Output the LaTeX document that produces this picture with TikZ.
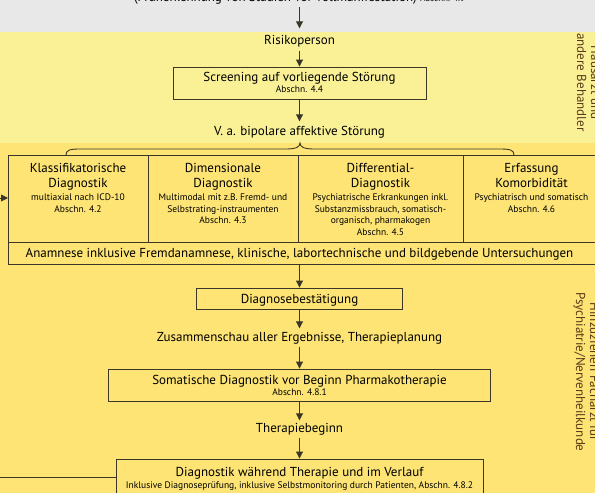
\documentclass[tikz,border=0pt]{standalone}
\usepackage{fontspec}
\setmainfont{PT Sans}
\usetikzlibrary{arrows.meta}
\definecolor{bggray}{HTML}{E8E8E8}
\definecolor{bglight}{HTML}{FAF196}
\definecolor{bgdark}{HTML}{FDE474}
\definecolor{ln}{HTML}{3A3628}
\definecolor{brn}{HTML}{5C3A1A}
\begin{document}
\begin{tikzpicture}[x=1pt,y=-1pt,
  box/.style={draw=ln,line width=0.9pt,inner sep=0pt},
  main/.style={font=\fontsize{13}{15.5}\selectfont,inner sep=0pt,text height=9.3pt,text depth=2.8pt,anchor=base},
  coltitle/.style={font=\fontsize{13}{15.5}\selectfont,inner sep=0pt,align=center,anchor=base},
  colsub/.style={font=\fontsize{9.5}{11.8}\selectfont,inner sep=0pt,align=center,anchor=base},
  small/.style={font=\fontsize{9.5}{11}\selectfont,inner sep=0pt,anchor=base},
  rot/.style={font=\fontsize{13}{14}\selectfont,inner sep=0pt,align=center,rotate=-90,text=brn},
  arr/.style={draw=ln,line width=0.9pt,-{Triangle[length=7pt,width=7pt]}},
  brace/.style={draw=ln,line width=0.9pt}
]
\useasboundingbox (0,0) rectangle (595,493);
% background bands
\fill[bggray] (0,-20) rectangle (600,32);
\fill[bglight] (0,32) rectangle (600,143);
\fill[bgdark] (0,143) rectangle (600,500);

% brace
\draw[brace] (66,155) .. controls (66,150) and (70,149) .. (80,149)
  -- (286,149) .. controls (296,149) and (300,147) .. (300,143)
  .. controls (300,147) and (304,149) .. (314,149)
  -- (500,149) .. controls (510,149) and (514,150) .. (514,155);

% main flow
\node[main] (top) at (299.5,1.5) {(Früherkennung von Stadien vor Vollmanifestation) {\fontsize{9}{10}\selectfont Abschn. 4.9}};
\node[main] (risk) at (299.5,44.5) {Risikoperson};
\node[box,minimum width=253pt,minimum height=32pt] (scr) at (299.5,83) {};
\node[main] (scrt) at (299.5,81.5) {Screening auf vorliegende Störung};
\node[small] (scrs) at (299.5,92.5) {Abschn. 4.4};
\node[main] (va) at (299.5,135.5) {V. a. bipolare affektive Störung};

% columns
\node[box,anchor=north west,minimum width=140pt,minimum height=87pt] (c1) at (8,155) {};
\node[box,anchor=north west,minimum width=150pt,minimum height=87pt] (c2) at (148,155) {};
\node[box,anchor=north west,minimum width=165pt,minimum height=87pt] (c3) at (298,155) {};
\node[box,anchor=north west,minimum width=140pt,minimum height=87pt] (c4) at (463,155) {};
\node[box,anchor=north west,minimum width=595pt,minimum height=22pt] (row) at (8,242) {};

\node[coltitle] (t1) at (78,187.5) {Klassifikatorische\\Diagnostik};
\node[colsub] (s1) at (78,212) {multiaxial nach ICD-10\\Abschn. 4.2};
\node[coltitle] (t2) at (223,187.5) {Dimensionale\\Diagnostik};
\node[colsub] (s2) at (223,223.8) {Multimodal mit z.B. Fremd- und\\Selbstrating-instraumenten\\Abschn. 4.3};
\node[coltitle] (t3) at (380.5,187.5) {Differential-\\Diagnostik};
\node[colsub] (s3) at (380.5,235.6) {Psychiatrische Erkrankungen inkl.\\Substanzmissbrauch, somatisch-\\organisch, pharmakogen\\Abschn. 4.5};
\node[coltitle] (t4) at (531.5,187.5) {Erfassung\\Komorbidität};
\node[colsub] (s4) at (531.5,212) {Psychiatrisch und somatisch\\Abschn. 4.6};
\node[main] (rowt) at (299.5,257.5) {Anamnese inklusive Fremdanamnese, klinische, labortechnische und bildgebende Untersuchungen};

\node[box,minimum width=206pt,minimum height=21pt] (dg) at (299.5,298.5) {};
\node[main] (dgt) at (299.5,303) {Diagnosebestätigung};
\node[main] (zus) at (299.5,341.5) {Zusammenschau aller Ergebnisse, Therapieplanung};
\node[box,minimum width=382pt,minimum height=32pt] (soma) at (299.5,385) {};
\node[main] (somat) at (299.5,384.5) {Somatische Diagnostik vor Beginn Pharmakotherapie};
\node[small] (somas) at (299.5,395.5) {Abschn. 4.8.1};
\node[main] (ther) at (299.5,432.5) {Therapiebeginn};
\node[box,minimum width=367pt,minimum height=40pt] (dv) at (299.5,479) {};
\node[main] (dvt) at (299.5,476.5) {Diagnostik während Therapie und im Verlauf};
\node[small] (dvs) at (299.5,488) {Inklusive Diagnoseprüfung, inklusive Selbstmonitoring durch Patienten, Abschn. 4.8.2};

% side labels
\node[rot] (side1) at (588.5,82.5) {Hausarzt und\\andere Behandler};
\node[rot] (side2) at (586.5,372) {Hinzuziehen Facharzt für\\Psychiatrie/Nervenheilkunde};

% connectors
\draw[arr,shorten <=2.7pt,shorten >=6.7pt] (top) -- (risk);
\draw[arr,shorten <=3.2pt] (risk) -- (scr);
\draw[arr,shorten >=4.7pt] (scr) -- (va);
\draw[arr] (row.south -| dg.north) -- (dg.north);
\draw[arr,shorten >=3.7pt] (dg) -- (zus);
\draw[arr,shorten <=2.2pt] (zus) -- (soma);
\draw[arr,shorten >=2.7pt] (soma) -- (ther);
\draw[arr,shorten <=2.2pt] (ther) -- (dv);
\coordinate (la) at (-5,198);
\draw[arr] (la) -- (la -| c1.west);
\coordinate (lb) at (-5,477);
\draw[draw=ln,line width=0.9pt] (lb) -- (lb -| dv.west);
\end{tikzpicture}
\end{document}
